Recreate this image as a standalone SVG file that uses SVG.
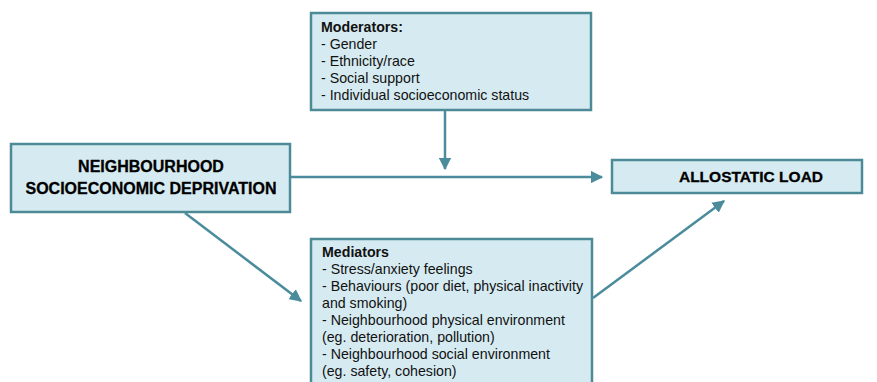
<svg xmlns="http://www.w3.org/2000/svg" width="877" height="382" viewBox="0 0 877 382">
<style>
.box{fill:#d6ebf1;stroke:#4d8a98;stroke-width:2.5}
.t{font-family:"Liberation Sans",Arial,sans-serif;font-size:14.2px;fill:#111}
.b{font-weight:bold}
.h{font-family:"Liberation Sans",Arial,sans-serif;font-size:16px;font-weight:bold;fill:#000;text-anchor:middle;stroke:#000;stroke-width:0.3}
.c{stroke:#4a8c9c;stroke-width:2.5;fill:none}
</style>
<defs>
<marker id="ah" viewBox="0 0 10 10" refX="9" refY="5" markerWidth="5" markerHeight="5" orient="auto" markerUnits="strokeWidth">
<path d="M0,0 L10,5 L0,10 z" fill="#4a8c9c"/>
</marker>
</defs>
<rect width="877" height="382" fill="#fff"/>
<g id="connectors">
<line class="c" x1="445" y1="111" x2="445" y2="169" marker-end="url(#ah)"/>
<line class="c" x1="291" y1="177" x2="602" y2="177" marker-end="url(#ah)"/>
<line class="c" x1="185" y1="213" x2="301" y2="301" marker-end="url(#ah)"/>
<line class="c" x1="593" y1="298" x2="724" y2="201" marker-end="url(#ah)"/>
</g>
<g id="moderators">
<rect class="box" x="311" y="13" width="280" height="97"/>
<text class="t b" x="321" y="32">Moderators:</text>
<text class="t" x="321" y="49">- Gender</text>
<text class="t" x="321" y="66">- Ethnicity/race</text>
<text class="t" x="321" y="83">- Social support</text>
<text class="t" x="321" y="100">- Individual socioeconomic status</text>
</g>
<g id="nsd">
<rect class="box" x="11" y="144" width="279" height="68"/>
<text class="h" x="151" y="172">NEIGHBOURHOOD</text>
<text class="h" x="151" y="194">SOCIOECONOMIC DEPRIVATION</text>
</g>
<g id="allostatic">
<rect class="box" x="612" y="160" width="250" height="33"/>
<text class="h" x="751" y="182" style="font-size:15.5px">ALLOSTATIC LOAD</text>
</g>
<g id="mediators">
<rect class="box" x="311" y="239" width="281" height="160"/>
<text class="t b" x="322" y="257">Mediators</text>
<text class="t" x="322" y="274">- Stress/anxiety feelings</text>
<text class="t" x="322" y="291">- Behaviours (poor diet, physical inactivity</text>
<text class="t" x="322" y="308">and smoking)</text>
<text class="t" x="322" y="325">- Neighbourhood physical environment</text>
<text class="t" x="322" y="342">(eg. deterioration, pollution)</text>
<text class="t" x="322" y="359">- Neighbourhood social environment</text>
<text class="t" x="322" y="376">(eg. safety, cohesion)</text>
</g>
</svg>
